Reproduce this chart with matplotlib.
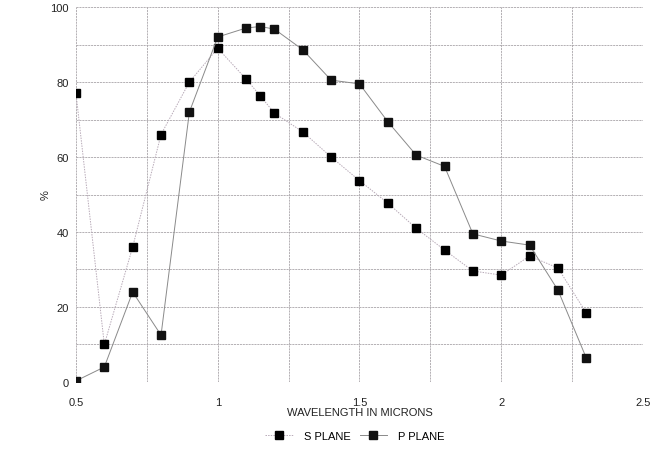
import matplotlib
matplotlib.use("Agg")
import matplotlib.pyplot as plt
from matplotlib.lines import Line2D

plt.rcParams['font.family'] = ['Liberation Sans', 'DejaVu Sans']

wavelength = [0.5, 0.6, 0.7, 0.8, 0.9, 1.0, 1.1, 1.15, 1.2, 1.3, 1.4, 1.5, 1.6, 1.7, 1.8, 1.9, 2.0, 2.1, 2.2, 2.3]
s_plane = [77, 10, 36, 66, 80, 89, 80.8, 76.3, 71.7, 66.7, 60, 53.7, 47.7, 41, 35.2, 29.6, 28.5, 33.6, 30.4, 18.4]
p_plane = [0.3, 4, 24, 12.5, 72, 92, 94.4, 94.8, 94.1, 88.6, 80.5, 79.5, 69.4, 60.5, 57.5, 39.5, 37.6, 36.5, 24.5, 6.4]

x_ticks = [0.5, 1, 1.5, 2, 2.5]
x_tick_labels = ['0.5', '1', '1.5', '2', '2.5']
y_ticks = [0, 20, 40, 60, 80, 100]

fig = plt.figure(figsize=(6.7, 4.6), dpi=100)
ax = fig.add_axes([0.1134, 0.1674, 0.8463, 0.8152])

ax.set_xlim(0.5, 2.5)
ax.set_ylim(0, 100)

grid_color = '#a8a4a8'
for gx in [0.5 + 0.25 * i for i in range(9)]:
    ax.axvline(gx, color=grid_color, lw=0.6, ls=(0, (2.5, 1)), zorder=0)
for gy in range(0, 101, 10):
    ax.axhline(gy, color=grid_color, lw=0.6, ls=(0, (2.5, 1)), zorder=0)

s_line = dict(color='#b8aab8', lw=0.7, ls=(0, (1.5, 1.2)), marker='s', ms=5.3, mfc='black', mec='black')
p_line = dict(color='#8a8a8a', lw=0.7, ls='-', marker='s', ms=5.3, mfc='#111111', mec='#111111')

ax.plot(wavelength, s_plane, zorder=3, **s_line)
ax.plot(wavelength, p_plane, zorder=3, **p_line)

for s in ax.spines.values():
    s.set_visible(False)

ax.set_xticks(x_ticks)
ax.set_xticklabels(x_tick_labels)
ax.set_yticks(y_ticks)
ax.tick_params(axis='both', length=0, labelsize=8, colors='#222222')
ax.tick_params(axis='x', pad=11)
ax.tick_params(axis='y', pad=5)

ax.set_xlabel('WAVELENGTH IN MICRONS', fontsize=8, labelpad=0, color='#222222')
ax.set_ylabel('%', fontsize=8, labelpad=0, color='#222222')

handles = [Line2D([], [], **s_line), Line2D([], [], **p_line)]
fig.legend(handles, ['S PLANE', 'P PLANE'], loc='center', bbox_to_anchor=(355 / 670, 1 - 437 / 460),
           ncol=2, frameon=False, fontsize=8, handlelength=2.5, columnspacing=0.8, handletextpad=1.0)

fig.savefig('out.png', dpi=100)
